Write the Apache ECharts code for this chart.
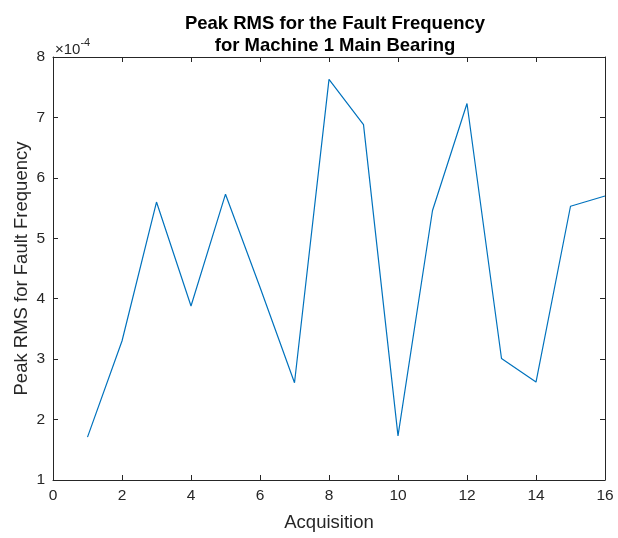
<!DOCTYPE html>
<html>
<head>
<meta charset="utf-8">
<script src="https://cdn.jsdelivr.net/npm/echarts@6/dist/echarts.min.js"></script>
<style>html,body{margin:0;padding:0;background:#fff;}#c{width:618px;height:538px;}</style>
</head>
<body>
<div id="c"></div>
<script>
const acquisitions = [1,2,3,4,5,6,7,8,9,10,11,12,13,14,15,16];
const peakRms = [1.71e-4,3.30e-4,5.60e-4,3.88e-4,5.73e-4,4.19e-4,2.61e-4,7.63e-4,6.88e-4,1.73e-4,5.46e-4,7.23e-4,3.01e-4,2.62e-4,5.53e-4,5.70e-4];
const titleLines = ['Peak RMS for the Fault Frequency','for Machine 1 Main Bearing'];
const xLabel = 'Acquisition';
const yLabel = 'Peak RMS for Fault Frequency';

const font = 'Liberation Sans, Arial, sans-serif';
const axisColor = '#262626';
const chart = echarts.init(document.getElementById('c'), null, {renderer:'canvas'});
const baseX = {
  type:'value', min:0, max:16, interval:2,
  axisLine:{show:true, lineStyle:{color:axisColor, width:1}},
  axisTick:{show:true, inside:true, length:5, lineStyle:{color:axisColor}},
  splitLine:{show:false}
};
const baseY = {
  type:'value', min:1e-4, max:8e-4, interval:1e-4,
  axisLine:{show:true, onZero:false, lineStyle:{color:axisColor, width:1}},
  axisTick:{show:true, inside:true, length:5, lineStyle:{color:axisColor}},
  splitLine:{show:false}
};
chart.setOption({
  animation:false,
  backgroundColor:'#fff',
  title:{
    text: titleLines.join('\n'),
    left: 330, top: 8, textAlign:'center',
    textStyle:{fontFamily:font, fontSize:18.5, fontWeight:'bold', color:'#000', lineHeight:22}
  },
  grid:{left:53, right:13, top:57, bottom:58, containLabel:false},
  xAxis:[
    Object.assign({}, baseX, {
      position:'bottom',
      name:xLabel, nameLocation:'middle', nameGap:33,
      nameTextStyle:{fontFamily:font, fontSize:18.5, color:axisColor},
      axisLabel:{fontFamily:font, fontSize:15.5, color:axisColor, margin:8}
    }),
    Object.assign({}, baseX, {position:'top', axisLabel:{show:false}})
  ],
  yAxis:[
    Object.assign({}, baseY, {
      position:'left',
      name:yLabel, nameLocation:'middle', nameGap:22, nameMoveOverlap:false,
      nameTextStyle:{fontFamily:font, fontSize:18.5, color:axisColor},
      axisLabel:{fontFamily:font, fontSize:15.5, color:axisColor, margin:8,
        formatter: v => String(Math.round(v*1e4))}
    }),
    Object.assign({}, baseY, {position:'right', axisLabel:{show:false}})
  ],
  graphic:[{
    type:'text', left:55, top:37,
    style:{
      text:'{a|×10}{b|-4}',
      rich:{
        a:{fontFamily:font, fontSize:15, fill:axisColor, padding:[5,0,0,0]},
        b:{fontFamily:font, fontSize:11, fill:axisColor, verticalAlign:'top', padding:[0,0,8,0]}
      }
    }
  }],
  series:[{
    type:'line',
    xAxisIndex:0, yAxisIndex:0,
    data: acquisitions.map((a,i)=>[a, peakRms[i]]),
    showSymbol:false, symbol:'none',
    lineStyle:{color:'#0072BD', width:1.2}
  }]
});
</script>
</body>
</html>
